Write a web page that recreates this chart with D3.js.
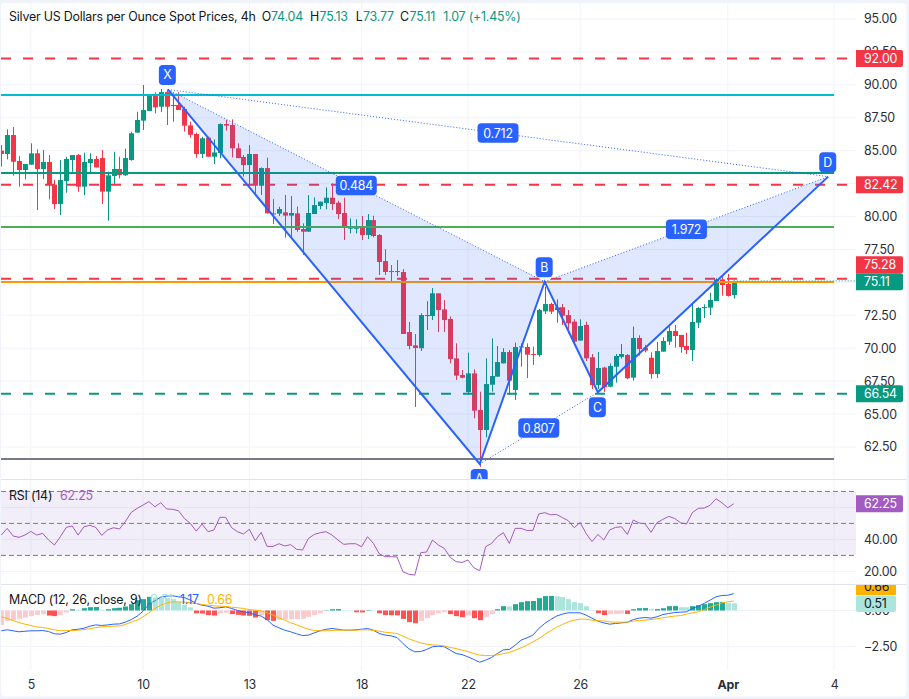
<!DOCTYPE html>
<html>
<head>
<meta charset="utf-8">
<script src="https://cdn.jsdelivr.net/npm/d3@7"></script>
<style>
body { margin: 0; background: #f0f3fa; }
svg { display: block; }
text { font-family: Inter, Roboto, sans-serif; font-size: 12.4px; letter-spacing: -0.2px; fill: #131722; }
.axis text { font-size: 12.4px; fill: #2a2e39; }
.axis path, .axis line { display: none; }
</style>
</head>
<body>
<svg id="chart" width="909" height="699"></svg>
<script>
"use strict";

const open = [
85.00,84.75,86.19,84.22,83.53,83.94,84.80,83.61,84.14,82.42,
80.95,82.70,84.29,84.67,82.27,84.06,84.37,84.44,81.89,83.08,
83.61,83.13,84.29,86.37,87.28,88.01,89.15,88.34,89.45,88.39,
88.47,88.16,86.92,86.27,84.75,85.99,84.54,84.82,87.02,86.95,
85.18,84.52,83.91,84.75,82.34,83.68,80.24,80.22,80.32,80.07,
80.24,79.05,78.85,80.19,80.80,81.03,81.43,81.05,80.27,79.08,
79.10,79.23,78.60,79.73,78.60,76.62,75.86,75.86,75.79,71.23,
70.22,70.00,72.47,72.45,74.17,72.95,72.22,69.23,67.97,66.67,
68.09,65.31,63.79,67.23,67.84,68.85,69.71,66.83,70.09,70.09,
69.56,69.48,72.80,73.36,72.90,73.11,72.52,72.02,70.58,71.77,
69.31,67.21,68.53,67.08,68.60,69.34,69.49,67.77,70.78,70.04,
69.28,68.04,69.74,70.50,71.31,71.01,70.17,69.87,71.94,73.06,
73.08,73.59,75.23,74.88,74.04];
const high = [
85.43,86.62,86.80,84.59,83.99,85.56,85.10,85.05,84.67,82.77,
84.29,84.54,84.67,84.75,84.85,84.80,84.59,85.05,83.40,84.92,
84.54,85.15,86.44,87.96,89.99,89.23,89.43,89.68,89.61,89.35,
89.45,88.34,87.20,86.37,86.06,86.06,85.86,87.07,87.33,87.38,
85.56,84.67,85.43,84.75,83.73,84.47,81.33,80.75,81.64,81.56,
80.75,79.48,81.63,81.46,81.13,82.22,82.52,81.20,81.43,79.86,
79.79,80.04,80.19,80.06,78.67,77.53,76.32,76.70,76.01,71.99,
71.08,72.65,73.58,74.57,74.17,73.66,72.40,70.37,68.35,69.66,
68.40,66.70,69.23,70.75,70.17,70.00,69.86,70.42,70.37,70.37,
70.12,72.98,74.67,73.46,73.71,73.36,72.90,72.20,72.20,72.02,
69.56,69.71,68.60,68.85,69.56,70.32,69.56,71.64,70.98,70.25,
69.69,70.47,70.83,71.64,71.77,71.01,71.18,73.46,73.11,73.33,
74.22,75.31,75.49,75.64,75.13];
const low = [
83.79,84.34,83.10,82.27,82.82,83.91,80.49,82.85,81.30,80.57,
80.12,81.81,83.40,81.89,81.63,83.28,83.73,80.95,79.68,82.39,
82.90,83.08,84.24,86.37,86.57,88.01,87.83,87.94,86.95,87.20,
88.09,86.44,85.99,84.47,84.44,84.54,83.99,84.42,86.52,84.49,
84.42,83.03,82.32,81.58,81.63,80.24,79.43,80.04,78.39,78.35,
78.85,77.08,78.85,80.19,80.55,80.55,80.49,79.81,78.22,78.72,
78.72,78.22,78.29,78.42,75.56,75.56,75.05,75.48,71.08,69.92,
65.54,69.79,71.38,72.14,71.23,71.23,68.85,67.59,67.71,66.45,
64.68,61.00,63.23,66.70,67.84,68.85,66.45,66.07,68.60,67.74,
68.73,69.36,72.60,72.60,71.94,71.77,71.13,70.42,70.58,69.03,
66.91,66.91,66.68,67.03,67.39,69.21,67.64,67.54,69.44,69.69,
67.69,67.74,69.74,70.25,70.04,69.66,69.56,69.03,71.54,72.30,
72.52,73.59,73.99,73.92,73.77];
const close = [
84.75,86.19,84.16,83.53,83.99,84.80,83.61,84.14,82.39,80.95,
82.77,84.37,84.67,82.27,84.14,84.37,83.73,81.89,83.13,83.61,
83.15,84.44,86.32,87.33,88.09,89.15,88.29,89.45,88.34,88.47,
88.09,86.90,86.21,84.75,85.94,84.54,84.87,87.02,86.90,85.18,
84.44,83.91,84.75,82.34,83.68,80.24,80.19,80.57,80.07,80.27,
78.98,78.85,80.27,80.87,81.13,81.43,80.95,80.19,79.15,79.18,
79.15,78.60,79.73,78.52,76.55,75.79,75.81,75.79,71.08,70.17,
70.02,72.52,72.52,74.17,72.90,72.14,69.18,67.92,67.76,68.09,
65.26,63.79,67.28,67.89,68.95,69.71,67.54,70.09,70.14,69.51,
69.51,72.90,73.36,72.78,73.10,72.47,71.89,70.50,71.69,69.23,
67.21,68.50,67.03,68.65,69.41,69.56,67.72,70.78,69.94,69.82,
68.04,69.79,70.55,71.31,70.93,70.09,69.87,71.99,73.06,73.13,
73.66,75.23,74.80,73.97,75.11];

const rsi = [
42.7,46.9,42.1,41.3,42.7,45.0,42.7,43.8,39.6,36.5,
41.7,47.5,48.4,42.7,47.9,48.8,47.5,42.5,45.9,47.3,
46.5,51.1,56.9,59.4,61.5,63.6,60.4,62.9,59.0,58.8,
57.9,53.1,50.0,45.2,49.6,44.8,45.9,53.8,53.8,47.3,
44.8,43.4,46.3,39.2,44.4,35.6,35.6,37.3,35.9,36.7,
33.8,33.4,40.6,43.1,44.2,44.8,42.7,39.6,36.9,37.3,
37.3,35.4,41.7,37.5,30.9,29.2,29.2,29.0,19.8,18.2,
17.7,31.7,32.1,39.6,36.5,34.4,28.8,26.1,25.6,27.1,
22.3,20.4,35.4,37.5,41.7,44.2,37.5,46.9,46.9,45.6,
45.6,55.9,56.7,55.4,55.6,53.6,51.7,47.3,50.6,43.8,
38.6,43.1,39.6,45.9,47.5,47.9,43.1,52.1,50.2,49.8,
44.4,50.4,52.5,54.4,53.1,50.4,49.6,56.7,59.4,59.6,
61.3,65.4,62.9,59.8,62.25];

const macd = [
-1.41,-1.34,-1.41,-1.48,-1.44,-1.41,-1.41,-1.39,-1.46,-1.62,
-1.64,-1.53,-1.34,-1.30,-1.23,-1.09,-1.00,-1.04,-1.00,-0.95,
-0.93,-0.81,-0.63,-0.39,-0.05,0.44,0.67,0.93,1.00,1.02,
0.95,0.90,0.72,0.49,0.37,0.30,0.16,0.19,0.25,0.14,
0.00,-0.09,-0.16,-0.30,-0.39,-0.63,-1.02,-1.20,-1.37,-1.48,
-1.62,-1.74,-1.71,-1.55,-1.41,-1.30,-1.25,-1.30,-1.37,-1.37,
-1.34,-1.30,-1.25,-1.37,-1.60,-1.71,-1.76,-1.88,-2.29,-2.66,
-2.87,-2.85,-2.71,-2.52,-2.48,-2.52,-2.75,-2.99,-3.06,-3.22,
-3.40,-3.59,-3.45,-3.26,-2.99,-2.73,-2.71,-2.41,-2.06,-1.90,
-1.71,-1.25,-0.90,-0.63,-0.39,-0.25,-0.16,-0.16,-0.16,-0.32,
-0.53,-0.74,-0.86,-0.95,-0.90,-0.86,-0.81,-0.63,-0.53,-0.49,
-0.53,-0.44,-0.28,-0.21,-0.14,-0.12,-0.09,0.14,0.30,0.49,
0.72,0.95,1.04,1.06,1.17];
const signal = [
-0.44,-0.56,-0.70,-0.83,-0.95,-1.04,-1.14,-1.18,-1.25,-1.34,
-1.41,-1.39,-1.39,-1.37,-1.32,-1.27,-1.18,-1.14,-1.11,-1.09,
-1.07,-0.97,-0.81,-0.67,-0.44,-0.16,0.14,0.37,0.53,0.60,
0.60,0.58,0.55,0.49,0.42,0.37,0.32,0.30,0.28,0.23,
0.19,0.14,0.07,0.02,-0.02,-0.16,-0.32,-0.51,-0.67,-0.86,
-0.99,-1.16,-1.30,-1.39,-1.41,-1.41,-1.39,-1.37,-1.37,-1.37,
-1.37,-1.34,-1.34,-1.37,-1.44,-1.51,-1.55,-1.60,-1.78,-1.97,
-2.11,-2.25,-2.34,-2.39,-2.41,-2.46,-2.57,-2.64,-2.75,-2.85,
-2.99,-3.10,-3.13,-3.13,-3.08,-2.99,-2.92,-2.75,-2.59,-2.41,
-2.18,-1.95,-1.67,-1.41,-1.16,-0.97,-0.79,-0.67,-0.60,-0.60,
-0.67,-0.72,-0.72,-0.79,-0.81,-0.81,-0.81,-0.74,-0.69,-0.67,
-0.63,-0.58,-0.51,-0.44,-0.39,-0.35,-0.25,-0.16,-0.09,0.05,
0.23,0.37,0.53,0.60,0.66];
const hist = [
-1.02,-0.72,-0.67,-0.58,-0.49,-0.39,-0.30,-0.25,-0.35,-0.39,
-0.32,-0.14,0.09,0.05,0.16,0.23,0.24,0.05,0.09,0.16,
0.19,0.28,0.44,0.72,0.79,0.95,0.90,0.88,0.85,0.80,
0.60,0.40,0.22,-0.19,-0.21,-0.32,-0.35,-0.21,-0.16,-0.25,
-0.30,-0.35,-0.37,-0.49,-0.35,-0.67,-0.72,-0.63,-0.62,-0.61,
-0.60,-0.58,-0.44,-0.32,-0.19,0.02,0.09,0.10,0.02,0.01,
-0.12,-0.13,0.03,0.02,-0.19,-0.32,-0.33,-0.34,-0.58,-0.81,
-0.88,-0.72,-0.53,-0.32,-0.19,-0.12,-0.25,-0.39,-0.46,-0.35,
-0.53,-0.67,-0.46,-0.25,0.09,0.30,0.28,0.44,0.58,0.65,
0.66,0.86,1.00,1.01,0.99,0.93,0.79,0.58,0.51,0.30,
0.02,-0.19,-0.32,-0.25,-0.23,-0.22,-0.24,0.09,0.16,0.17,
0.09,0.10,0.16,0.30,0.31,0.23,0.22,0.30,0.37,0.44,
0.51,0.58,0.59,0.52,0.51];

// candle index -> date label on the time axis
const date_ticks = [5, 24, 42, 61, 79, 98, 123, 141];
const date_labels = ["5", "10", "13", "18", "22", "26", "Apr", "4"];
const price_ticks = [62.5, 65, 67.5, 70, 72.5, 75, 77.5, 80, 82.5, 85, 87.5, 90, 92.5, 95];
const rsi_ticks = [20, 40, 60];
const rsi_bands = [70, 50, 30];
const macd_ticks = [-2.5, 0];
// fully covered by a price tag, grid line only
const covered_ticks = [75, 60];

const dashed_levels = [92.00, 82.42, 75.28, 66.54];
const dashed_colors = ["#f23645", "#f23645", "#f23645", "#089981"];
const solid_levels = [89.23, 83.30, 79.20, 75.03, 61.59];
const solid_colors = ["#00bcd4", "#089981", "#4caf50", "#ff9800", "#787b86"];

// XABCD pattern
const pattern_names = ["X", "A", "B", "C", "D"];
const pattern_index = [28.2, 81, 92, 101, 140];
const pattern_price = [89.65, 61.21, 75.05, 66.66, 83.03];
const pattern_ratios = ["0.484", "0.807", "0.712", "1.972"];
const ratio_ends = [[0, 2], [1, 3], [0, 4], [2, 4]];

const UP = "#089981";
const DOWN = "#f23645";
const BLUE = "#2962ff";
const PURPLE = "#a25bc0";
const AMBER = "#ffb300";
const GRID = "#f0f3fa";

const svg = d3.select("#chart");
const indices = d3.range(open.length);

const xScale = d3.scaleLinear().domain([0, 124]).range([1.3, 733.7]);
const yPrice = d3.scaleLinear().domain([62.5, 95]).range([447, 19]);
const yRsi = d3.scaleLinear().domain([20, 70]).range([571.4, 491.4]);
const yMacd = d3.scaleLinear().domain([-2.5, 0]).range([646.5, 610.5]);

svg.append("rect").attr("x", 1).attr("y", 3).attr("width", 905.5).attr("height", 693.5)
    .attr("rx", 4).attr("fill", "#fff");

const defs = svg.append("defs");
function addClip(id, y, h) {
    defs.append("clipPath").attr("id", id).append("rect")
        .attr("x", 1).attr("y", y).attr("width", 855).attr("height", h);
}
addClip("clip-main", 3, 476);
addClip("clip-rsi", 480, 104);
addClip("clip-macd", 585, 85);

function pane(id) {
    return svg.append("g").attr("clip-path", `url(#${id})`);
}
const mainPane = pane("clip-main");
const rsiPane = pane("clip-rsi");
const macdPane = pane("clip-macd");

function hline(g, y, color, width, x0 = 1, x1 = 856) {
    return g.append("line")
        .attr("x1", x0).attr("x2", x1)
        .attr("y1", y).attr("y2", y)
        .attr("stroke", color).attr("stroke-width", width);
}

// grid
for (const g of [mainPane, rsiPane, macdPane]) {
    for (const t of date_ticks) {
        g.append("line")
            .attr("x1", xScale(t)).attr("x2", xScale(t))
            .attr("y1", 3).attr("y2", 670)
            .attr("stroke", GRID).attr("stroke-width", 1);
    }
}
price_ticks.forEach(t => hline(mainPane, yPrice(t), GRID, 1));
rsi_ticks.forEach(t => hline(rsiPane, yRsi(t), GRID, 1));
macd_ticks.forEach(t => hline(macdPane, yMacd(t), GRID, 1));

// candles
mainPane.append("g").selectAll("line").data(indices).join("line")
    .attr("x1", i => Math.round(xScale(i)) + 0.5)
    .attr("x2", i => Math.round(xScale(i)) + 0.5)
    .attr("y1", i => yPrice(high[i]))
    .attr("y2", i => yPrice(low[i]))
    .attr("stroke", i => close[i] >= open[i] ? UP : DOWN);
mainPane.append("g").selectAll("rect").data(indices).join("rect")
    .attr("x", i => Math.round(xScale(i)) - 2)
    .attr("width", 5)
    .attr("y", i => yPrice(Math.max(open[i], close[i])))
    .attr("height", i => Math.max(1, Math.abs(yPrice(open[i]) - yPrice(close[i]))))
    .attr("fill", i => close[i] >= open[i] ? UP : DOWN);

// drawn levels
solid_levels.forEach((v, i) => hline(mainPane, yPrice(v), solid_colors[i], 2, 1, xScale(141)));
dashed_levels.forEach((v, i) => hline(mainPane, yPrice(v), dashed_colors[i], 2, 1, 847)
    .attr("stroke-dasharray", "10,12"));

// last price dotted line
hline(mainPane, yPrice(close[124]), UP, 1, xScale(124), 856).attr("stroke-dasharray", "1,2");

// pattern fill, lines and labels
const pointX = i => xScale(pattern_index[i]);
const pointY = i => yPrice(pattern_price[i]);
const triangle = d3.line().x(pointX).y(pointY);
for (const tri of [[0, 1, 2], [2, 3, 4]]) {
    mainPane.append("path").attr("d", triangle(tri) + "Z")
        .attr("fill", BLUE).attr("fill-opacity", 0.15);
}
for (const [a, b] of ratio_ends) {
    mainPane.append("path").attr("d", triangle([a, b]))
        .attr("fill", "none").attr("stroke", BLUE).attr("stroke-dasharray", "1,2");
}
mainPane.append("path").attr("d", triangle([0, 1, 2, 3, 4]))
    .attr("fill", "none").attr("stroke", BLUE).attr("stroke-width", 2);

function badge(g, cx, cy, w, h, label) {
    g.append("rect").attr("x", cx - w / 2).attr("y", cy - h / 2)
        .attr("width", w).attr("height", h).attr("rx", 4).attr("fill", BLUE);
    g.append("text").attr("x", cx).attr("y", cy)
        .attr("text-anchor", "middle").attr("dy", "0.36em")
        .style("fill", "#fff").text(label);
}
// point letters sit above highs (X, B, D) and below lows (A, C)
pattern_names.forEach((name, i) => {
    const below = i === 1 || i === 3;
    badge(mainPane, pointX(i) - 0.5, pointY(i) + (below ? 15 : -14.5), 17, 20, name);
});
pattern_ratios.forEach((label, i) => {
    const [a, b] = ratio_ends[i];
    badge(mainPane, (pointX(a) + pointX(b)) / 2, (pointY(a) + pointY(b)) / 2, 41, 19.5, label);
});

// rsi
rsiPane.append("rect").attr("x", 1).attr("width", 855)
    .attr("y", yRsi(70)).attr("height", yRsi(30) - yRsi(70))
    .attr("fill", "#7e57c2").attr("fill-opacity", 0.1);
rsi_bands.forEach(v => hline(rsiPane, yRsi(v), "#787b86", 1).attr("stroke-dasharray", "5,3"));
rsiPane.append("path").datum(rsi)
    .attr("d", d3.line().x((d, i) => xScale(i)).y(d => yRsi(d)))
    .attr("fill", "none").attr("stroke", PURPLE).attr("stroke-width", 1);

// macd
macdPane.append("g").selectAll("rect").data(indices).join("rect")
    .attr("x", i => Math.round(xScale(i)) - 2)
    .attr("width", 5)
    .attr("y", i => Math.min(yMacd(hist[i]), yMacd(0)))
    .attr("height", i => Math.abs(yMacd(hist[i]) - yMacd(0)))
    .attr("fill", i => {
        const up = i === 0 || hist[i] >= hist[i - 1];
        if (hist[i] >= 0) return up ? "#22ab94" : "#ace5dc";
        return up ? "#fccbcd" : "#ff5252";
    });
function seriesLine(values, color) {
    macdPane.append("path").datum(values)
        .attr("d", d3.line().x((d, i) => xScale(i)).y(d => yMacd(d)))
        .attr("fill", "none").attr("stroke", color).attr("stroke-width", 1);
}
seriesLine(macd, BLUE);
seriesLine(signal, AMBER);

// pane separators
for (const y of [479.5, 584.5]) {
    hline(svg, y, "#e0e3eb", 1, 1, 906.5);
}

// axes
const fmt = d3.format(".2f");
function rightAxis(scale, ticks) {
    svg.append("g").attr("class", "axis")
        .attr("transform", "translate(864,0)")
        .call(d3.axisRight(scale)
            .tickValues(ticks.filter(t => !covered_ticks.includes(t)))
            .tickFormat(fmt).tickSize(0).tickPadding(0));
}
rightAxis(yPrice, price_ticks);
rightAxis(yRsi, rsi_ticks);
rightAxis(yMacd, macd_ticks);

svg.append("g").attr("class", "axis")
    .attr("transform", "translate(0,671)")
    .call(d3.axisBottom(xScale).tickValues(date_ticks)
        .tickFormat((d, i) => date_labels[i]).tickSize(0).tickPadding(9))
    .selectAll("text")
    .style("font-weight", d => d === 123 ? 700 : 400);

// price tags on the axis
function tag(cy, label, bg, fg = "#fff", w = 47) {
    svg.append("path")
        .attr("d", `M856,${cy - 8.5}h${w - 2}q2,0 2,2v13q0,2 -2,2h${2 - w}z`)
        .attr("fill", bg);
    svg.append("text").attr("x", 864).attr("y", cy).attr("dy", "0.36em")
        .style("fill", fg).text(label);
}
tag(yPrice(92), "92.00", DOWN);
tag(yPrice(82.42), "82.42", DOWN);
tag(yPrice(75.28) - 14, "75.28", DOWN);
tag(yPrice(close[124]) + 0.7, "75.11", UP);
tag(yPrice(66.54), "66.54", UP);
tag(yRsi(rsi[124]), "62.25", PURPLE);

defs.append("clipPath").attr("id", "clip-axis-macd").append("rect")
    .attr("x", 856).attr("y", 585).attr("width", 50).attr("height", 85);
const macdTags = svg.append("g").attr("clip-path", "url(#clip-axis-macd)");
macdTags.append("rect").attr("x", 856).attr("y", 579).attr("width", 40).attr("height", 16).attr("fill", AMBER);
macdTags.append("text").attr("x", 864).attr("y", 587).attr("dy", "0.36em").text("0.66");
macdTags.append("rect").attr("x", 856).attr("y", 595.5).attr("width", 40).attr("height", 16.5).attr("rx", 2).attr("fill", "#ace5dc");
macdTags.append("text").attr("x", 864).attr("y", 604).attr("dy", "0.36em").text("0.51");

// legends
function legend(x, y, label, color = "#131722") {
    svg.append("text").attr("x", x).attr("y", y).attr("dy", "0.36em")
        .style("fill", color).text(label);
}
legend(9, 17, "Silver US Dollars per Ounce Spot Prices, 4h");
legend(261.7, 17, "O");
legend(271, 17, "74.04", UP);
legend(310, 17, "H");
legend(319.5, 17, "75.13", UP);
legend(355.7, 17, "L");
legend(363, 17, "73.77", UP);
legend(400, 17, "C");
legend(409.5, 17, "75.11", UP);
legend(443.3, 17, "1.07 (+1.45%)", UP);
legend(9, 496, "RSI (14)");
legend(60, 496, "62.25", PURPLE);
legend(9, 600, "MACD (12, 26, close, 9)");
legend(150, 600, "0.51", "#ace5dc");
legend(180, 600, "1.17", BLUE);
legend(207, 600, "0.66", AMBER);
</script>
</body>
</html>
